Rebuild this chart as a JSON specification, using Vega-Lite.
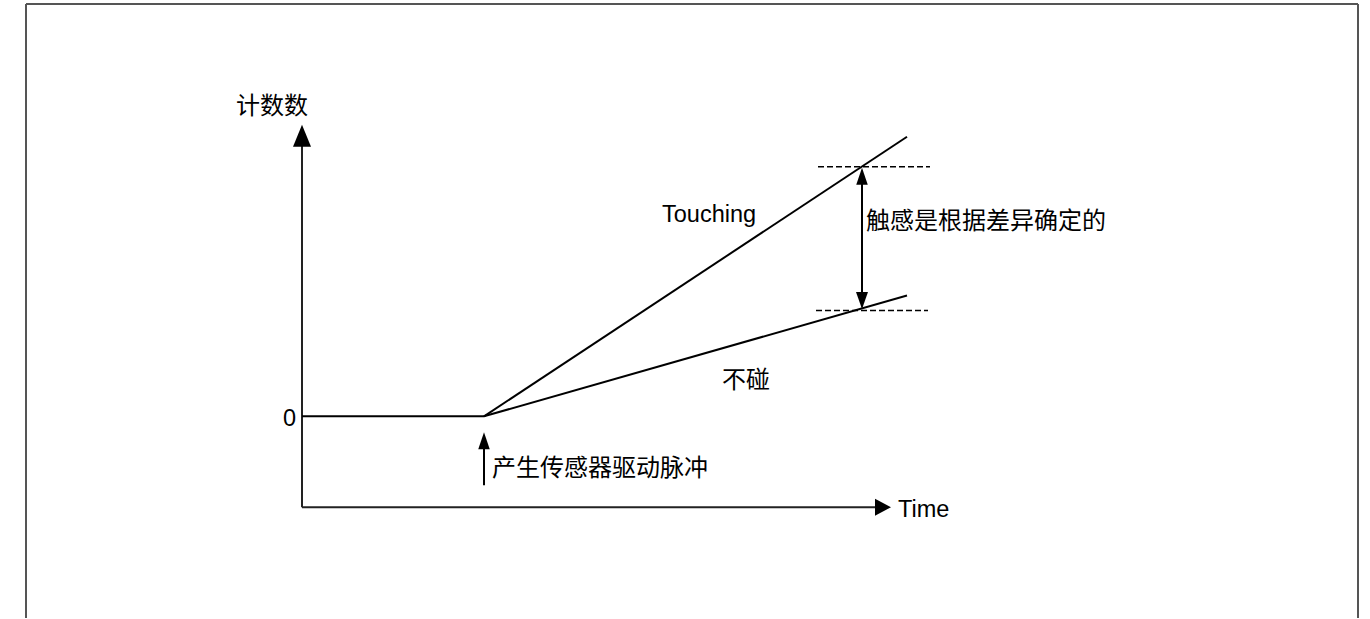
{
  "$schema": "https://vega.github.io/schema/vega-lite/v6.json",
  "width": 1370,
  "height": 619,
  "padding": 0,
  "autosize": {"type": "fit", "contains": "padding"},
  "background": "white",
  "config": {"view": {"stroke": null}},
  "encoding": {
    "x": {"field": "x", "type": "quantitative", "axis": null, "scale": {"domain": [-302, 1068], "nice": false, "zero": false}},
    "y": {"field": "y", "type": "quantitative", "axis": null, "scale": {"domain": [-202, 417], "nice": false, "zero": false}}
  },
  "layer": [
    {
      "data": {"values": [
        {"x": -276, "y": 413, "x2": -276, "y2": -202},
        {"x": -276, "y": 413, "x2": 1056, "y2": 413},
        {"x": 1056, "y": 413, "x2": 1056, "y2": -202}
      ]},
      "mark": {"type": "rule", "color": "#555555", "strokeWidth": 2},
      "encoding": {"x2": {"field": "x2"}, "y2": {"field": "y2"}}
    },
    {
      "data": {"values": [
        {"x": 0, "y": -91, "x2": 0, "y2": 272},
        {"x": 0, "y": -91, "x2": 576, "y2": -91}
      ]},
      "mark": {"type": "rule", "color": "#222222", "strokeWidth": 2},
      "encoding": {"x2": {"field": "x2"}, "y2": {"field": "y2"}}
    },
    {
      "data": {"values": [
        {"x": 182, "y": -69, "x2": 182, "y2": -28},
        {"x": 560, "y": 110, "x2": 560, "y2": 246}
      ]},
      "mark": {"type": "rule", "color": "#000000", "strokeWidth": 2},
      "encoding": {"x2": {"field": "x2"}, "y2": {"field": "y2"}}
    },
    {
      "data": {"values": [
        {"series": "baseline", "x": 0, "y": 0},
        {"series": "baseline", "x": 182, "y": 0},
        {"series": "Touching", "x": 182, "y": 0},
        {"series": "Touching", "x": 605, "y": 280},
        {"series": "不碰", "x": 182, "y": 0},
        {"series": "不碰", "x": 605, "y": 121}
      ]},
      "mark": {"type": "line", "color": "#000000", "strokeWidth": 2},
      "encoding": {"detail": {"field": "series"}}
    },
    {
      "data": {"values": [
        {"x": 516, "y": 250, "x2": 628, "y2": 250},
        {"x": 514, "y": 106, "x2": 626, "y2": 106}
      ]},
      "mark": {"type": "rule", "color": "#000000", "strokeWidth": 1.6, "strokeDash": [6, 3]},
      "encoding": {"x2": {"field": "x2"}, "y2": {"field": "y2"}}
    },
    {
      "data": {"values": [
        {"kind": "axis-up", "x": 0, "y": 281},
        {"kind": "axis-right", "x": 581, "y": -91},
        {"kind": "up", "x": 182, "y": -24.5},
        {"kind": "up", "x": 560, "y": 240.5},
        {"kind": "down", "x": 560, "y": 116}
      ]},
      "mark": {"type": "point", "filled": true, "color": "#000000", "opacity": 1, "size": 576, "strokeWidth": 0},
      "encoding": {
        "shape": {"field": "kind", "type": "nominal", "legend": null, "scale": {
          "domain": ["axis-up", "axis-right", "up", "down"],
          "range": [
            "M0,-0.917L0.75,0.917L-0.75,0.917Z",
            "M0.667,0L-0.667,0.708L-0.667,-0.708Z",
            "M0,-0.708L0.48,0.708L-0.48,0.708Z",
            "M0,0.708L0.5,-0.708L-0.5,-0.708Z"
          ]
        }}
      }
    },
    {
      "data": {"values": [
        {"label": "0", "x": -19, "y": -3},
        {"label": "Touching", "x": 360, "y": 202},
        {"label": "Time", "x": 596, "y": -94}
      ]},
      "mark": {"type": "text", "align": "left", "baseline": "middle", "font": "Liberation Sans, Arial, sans-serif", "fontSize": 23.5, "color": "#000000"},
      "encoding": {"text": {"field": "label"}}
    },
    {
      "data": {"values": [
        {"label": "计数数", "x": -66, "y": 310},
        {"label": "不碰", "x": 420, "y": 35},
        {"label": "触感是根据差异确定的", "x": 564, "y": 195},
        {"label": "产生传感器驱动脉冲", "x": 190, "y": -53}
      ]},
      "mark": {"type": "text", "align": "left", "baseline": "middle", "font": "Noto Sans CJK SC", "fontSize": 24, "color": "#000000"},
      "encoding": {"text": {"field": "label"}}
    }
  ]
}
